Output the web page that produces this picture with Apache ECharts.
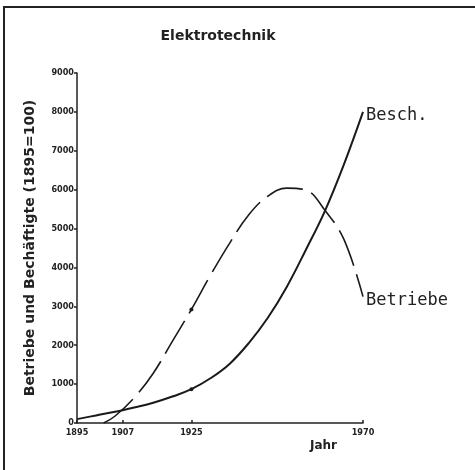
<!DOCTYPE html>
<html>
<head>
<meta charset="utf-8">
<script src="https://cdn.jsdelivr.net/npm/echarts@6/dist/echarts.min.js"></script>
<style>
html, body { margin: 0; padding: 0; background: #fff; }
#chart { width: 475px; height: 470px; }
</style>
</head>
<body>
<div id="chart"></div>
<script>
const yearTicks = [1895, 1907, 1925, 1970];
const beschYears = [1895, 1900, 1905, 1910, 1915, 1920, 1925, 1930, 1935, 1940, 1945, 1950, 1955, 1960, 1965, 1970];
const beschValues = [100, 195, 290, 400, 520, 680, 870, 1150, 1520, 2050, 2700, 3500, 4450, 5450, 6650, 8000];
const betriebeYears = [1902, 1905, 1910, 1915, 1920, 1925, 1930, 1935, 1940, 1945, 1950, 1955, 1960, 1965, 1970];
const betriebeValues = [0, 180, 650, 1280, 2100, 2920, 3800, 4620, 5350, 5830, 6040, 5990, 5470, 4720, 3250];
const markYear = 1925;

const chart = echarts.init(document.getElementById('chart'));

function toData(years, values) {
    return years.map(function (y, i) {
        if (y === markYear) {
            return { value: [y, values[i]], symbol: 'circle', symbolSize: 4 };
        }
        return [y, values[i]];
    });
}

const endLabel = function (text) {
    return {
        show: true,
        formatter: text,
        fontFamily: 'DejaVu Sans Mono',
        fontSize: 17,
        color: '#222',
        distance: 3,
        offset: [0, 4]
    };
};

const options = {
    animation: false,
    title: {
        text: 'Elektrotechnik',
        left: 213,
        textAlign: 'center',
        top: 24,
        textStyle: {
            fontFamily: 'DejaVu Sans',
            fontWeight: 'bold',
            fontSize: 14,
            color: '#222'
        }
    },
    grid: {
        left: 77,
        right: 112,
        top: 73,
        bottom: 47
    },
    xAxis: {
        type: 'value',
        min: 1895,
        max: 1970,
        axisLine: { lineStyle: { color: '#222', width: 1.5 } },
        axisTick: {
            customValues: yearTicks,
            length: 3,
            inside: true,
            lineStyle: { color: '#222', width: 1.5 }
        },
        axisLabel: {
            customValues: yearTicks,
            margin: 5,
            formatter: function (v) { return String(v); },
            fontFamily: 'DejaVu Sans Condensed',
            fontWeight: 'bold',
            fontSize: 9,
            color: '#222'
        },
        splitLine: { show: false }
    },
    yAxis: {
        type: 'value',
        min: 0,
        max: 9000,
        interval: 1000,
        name: 'Betriebe und Bechäftigte (1895=100)',
        nameLocation: 'middle',
        nameGap: 40,
        nameTextStyle: {
            fontFamily: 'DejaVu Sans',
            fontWeight: 'bold',
            fontSize: 14,
            color: '#222'
        },
        axisLine: { show: true, lineStyle: { color: '#222', width: 1.5 } },
        axisTick: { show: true, length: 3, lineStyle: { color: '#222', width: 1.5 } },
        axisLabel: {
            margin: 3,
            formatter: function (v) { return String(v); },
            fontFamily: 'DejaVu Sans Condensed',
            fontWeight: 'bold',
            fontSize: 9,
            color: '#222'
        },
        splitLine: { show: false }
    },
    series: [
        {
            name: 'Besch.',
            type: 'line',
            smooth: 0.4,
            symbol: 'none',
            data: toData(beschYears, beschValues),
            lineStyle: { color: '#1a1a1a', width: 2 },
            itemStyle: { color: '#1a1a1a' },
            endLabel: endLabel('Besch.')
        },
        {
            name: 'Betriebe',
            type: 'line',
            smooth: 0.4,
            symbol: 'none',
            data: toData(betriebeYears, betriebeValues),
            lineStyle: { color: '#1a1a1a', width: 1.6, type: [38, 9] },
            itemStyle: { color: '#1a1a1a' },
            endLabel: endLabel('Betriebe')
        }
    ],
    graphic: [
        {
            type: 'text',
            left: 310,
            top: 440,
            style: {
                text: 'Jahr',
                fontFamily: 'DejaVu Sans',
                fontWeight: 'bold',
                fontSize: 12,
                fill: '#222'
            }
        },
        {
            type: 'polyline',
            shape: { points: [[4, 470], [4, 7], [475, 7]] },
            style: { stroke: '#222', lineWidth: 2, fill: null }
        }
    ]
};

chart.setOption(options);
</script>
</body>
</html>
